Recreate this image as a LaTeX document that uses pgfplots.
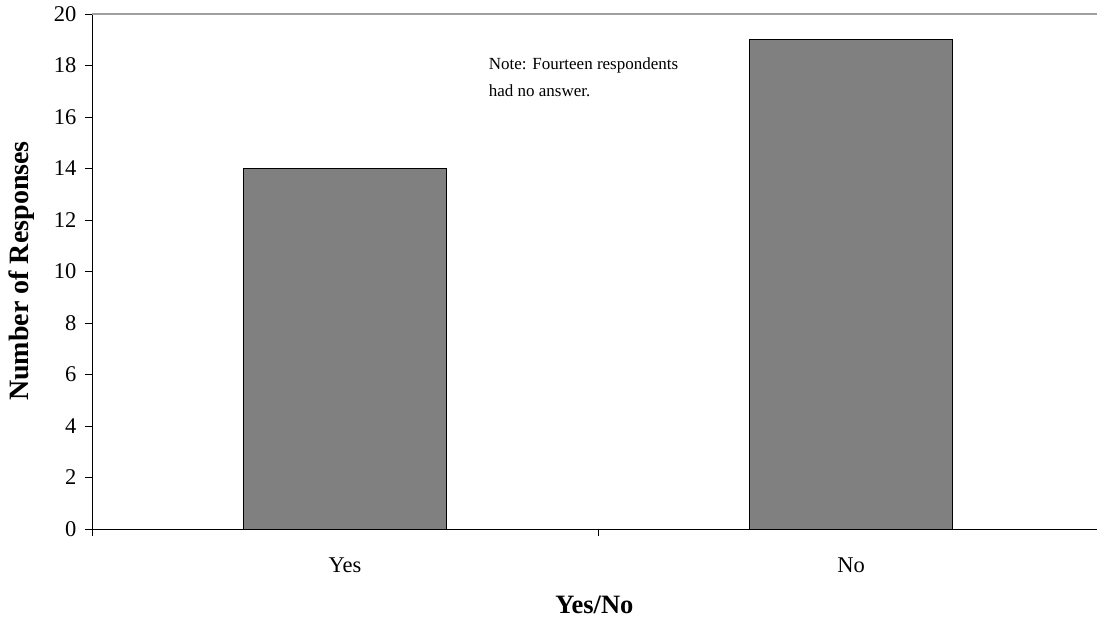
\documentclass[border=0pt]{standalone}
\usepackage{fontspec}
\setmainfont{Liberation Serif}
\usepackage{pgfplots}
\pgfplotsset{compat=1.18}
\definecolor{barfill}{HTML}{808080}
\definecolor{topline}{HTML}{A0A0A0}
\begin{document}
\begin{tikzpicture}
\useasboundingbox (-92pt,-100pt) rectangle (1005pt,529pt);
\begin{axis}[
  at={(0,0)}, anchor=south west,
  scale only axis, width=1012pt, height=515pt,
  xmin=-0.5, xmax=1.5, ymin=0, ymax=20,
  axis x line*=bottom, axis y line*=left,
  axis line style={black, line width=0.8pt, -},
  tick style={black, line width=0.8pt},
  tick align=outside, major tick length=7pt,
  ytick={0,2,...,20},
  xtick={-0.5,0.5,1.5}, xticklabels={},
  extra x ticks={0,1}, extra x tick labels={Yes,No},
  extra x tick style={major tick length=0pt},
  ybar, bar width=0.4,
  /pgf/number format/assume math mode=true,
  ticklabel style={font=\fontsize{22.5}{26}\selectfont},
  xticklabel style={yshift=-25pt},
  yticklabel style={xshift=-5pt},
  xlabel={Yes/No},
  ylabel={Number of Responses},
  xlabel style={font=\fontsize{26.5}{30}\selectfont\bfseries, at={(axis description cs:0.4965,0)}, anchor=center, yshift=-76pt},
  ylabel style={font=\fontsize{28}{32}\selectfont\bfseries, at={(axis description cs:-0.0692,0.501)}, anchor=center},
  clip=false,
]
\draw[topline, line width=1.6pt] (rel axis cs:0,1) -- (rel axis cs:1,1);
\addplot[fill=barfill, draw=black, line width=0.8pt] coordinates {(0,14) (1,19)};
\node[anchor=north west, align=left, inner sep=0pt, font=\fontsize{17}{27}\selectfont] at (axis cs:0.284,18.3) {Note: Fourteen respondents\\had no answer.};
\end{axis}
\end{tikzpicture}
\end{document}
